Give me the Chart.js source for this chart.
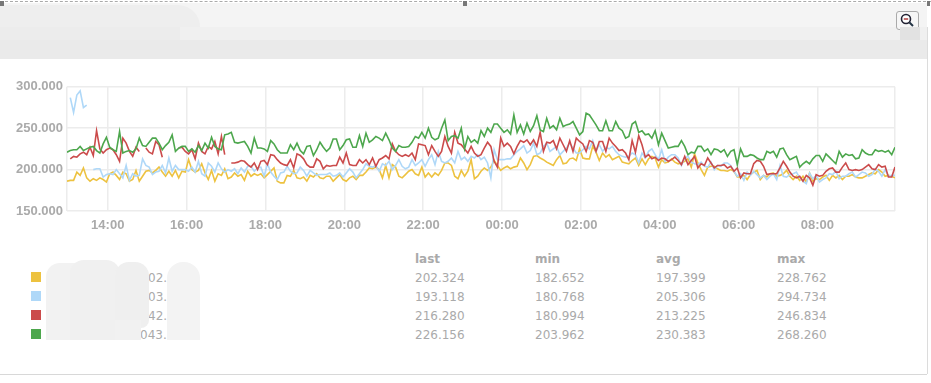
<!DOCTYPE html>
<html>
<head>
<meta charset="utf-8">
<style>
  html, body { margin: 0; padding: 0; background: #fff; overflow: hidden; }
  #page { position: relative; width: 931px; height: 383px; font-family: "DejaVu Sans", sans-serif; }
  #page div, #page span { position: absolute; }
  #chartBox { left: 0; top: 75px; width: 900px; height: 165px; }
  .cell { font-size: 12px; color: #aaa; line-height: 16px; white-space: nowrap; }
  .head { font-weight: bold; }
</style>
<script src="https://cdn.jsdelivr.net/npm/chart.js@4/dist/chart.umd.min.js"></script>
</head>
<body>
<div id="page">
  <div style="left:0;top:3px;width:927px;height:24px;background:#f4f4f4"></div>
  <div style="left:0;top:27px;width:927px;height:13px;background:#f0f0f0"></div>
  <div style="left:0;top:40px;width:927px;height:19px;background:#eaeaea"></div>
  <div style="left:0;top:5px;width:200px;height:22px;background:#eeeeee;border-radius:0 22px 0 0"></div>
  <div style="left:0;top:27px;width:180px;height:13px;background:#ececec"></div>
  <div style="left:0;top:1px;width:931px;border-top:1px dashed #aaa"></div>
  <div style="left:0;top:1px;width:4px;height:5px;background:#777"></div>
  <div style="left:463px;top:1px;width:4px;height:5px;background:#777"></div>
  <div style="left:927px;top:1px;width:3px;height:5px;background:#777"></div>
  <div style="left:927px;top:27px;width:1px;height:347px;background:#dcdcdc"></div>
  <div style="left:0;top:374px;width:927px;height:1px;background:#d8d8d8"></div>
  <div style="left:896px;top:11px;width:21px;height:17px;border:1px solid #aaa;border-radius:3px;background:#f6f6f6"></div>
  <svg style="position:absolute;left:899px;top:13px" width="16" height="15" viewBox="0 0 16 15">
    <circle cx="7" cy="6" r="4.5" fill="#fff" stroke="#223" stroke-width="1.6"/>
    <line x1="10.5" y1="9.5" x2="14" y2="13" stroke="#234" stroke-width="2"/>
    <line x1="4.8" y1="6" x2="9.2" y2="6" stroke="#a33" stroke-width="1.4"/>
  </svg>
  <div style="left:900px;top:27px;width:20px;height:13px;background:#e2e2e2"></div>

  <div id="chartBox"><canvas id="mainChart"></canvas></div>

  <div id="legendBox"></div>
  <div style="left:46px;top:263px;width:50px;height:77px;background:#f2f2f2;border-radius:14px 14px 0 0"></div>
  <div style="left:70px;top:260px;width:50px;height:80px;background:#f0f0f0;border-radius:14px 14px 0 0"></div>
  <div style="left:115px;top:262px;width:34px;height:66px;background:#efefef;border-radius:14px 14px 8px 6px"></div>
  <div style="left:115px;top:320px;width:26px;height:20px;background:#f1f1f1"></div>
  <div style="left:167px;top:262px;width:33px;height:78px;background:#f3f3f3;border-radius:16px 16px 0 0"></div>
</div>
<script>
const seriesColors = ["#edc240", "#afd8f8", "#cb4b4b", "#4da74d"];
const tableColumns = ["last", "min", "avg", "max"];
const nameStubs = ["02.", "03.", "42.", "043."];
const tableRows = [
  ["202.324", "182.652", "197.399", "228.762"],
  ["193.118", "180.768", "205.306", "294.734"],
  ["216.280", "180.994", "213.225", "246.834"],
  ["226.156", "203.962", "230.383", "268.260"],
];
const hourTicks = [14, 16, 18, 20, 22, 24, 26, 28, 30, 32];
const yTicks = [150, 200, 250, 300];

// one row per hour of 5 minute samples, from 12:58
const yellowValues = [
  186,187,187,197,193,202,190,186,189,187,190,188,
  185,195,197,193,188,197,195,186,188,199,186,192,
  198,199,196,199,203,197,192,198,192,199,190,198,
  197,212,200,197,199,207,196,188,199,186,195,193,
  201,189,191,196,192,194,187,198,192,195,193,195,
  190,194,198,202,186,184,184,193,192,199,190,189,
  191,186,193,191,195,190,189,192,192,186,190,194,
  188,186,190,192,188,193,193,197,202,201,203,200,
  190,205,190,206,203,192,190,194,198,200,195,193,
  203,191,196,191,196,193,199,208,208,205,192,189,
  199,192,198,212,189,192,198,202,199,203,211,205,
  199,202,204,201,203,204,214,208,200,206,216,217,
  214,212,209,207,205,212,217,207,208,213,214,211,
  225,214,213,213,228,221,211,220,215,218,212,214,
  216,209,208,207,211,214,205,213,206,213,216,214,
  203,212,208,209,213,209,207,208,210,213,203,219,
  208,200,193,203,204,204,201,199,199,198,200,198,
  191,191,193,188,194,197,199,188,193,191,195,196,
  192,193,195,199,192,188,192,187,192,185,196,186,
  189,188,191,193,187,193,190,193,188,192,192,194,
  191,190,190,192,194,196,195,200,197,192,193,192,
  190,
];
const blueValues = [
  null,287,269,290,295,275,278,null,200,201,201,191,
  194,195,194,200,195,190,205,187,195,192,193,213,
  205,203,194,197,198,205,196,214,198,205,200,200,
  200,198,203,197,210,195,192,208,204,197,208,201,
  197,200,198,201,195,202,197,204,204,198,202,203,
  192,207,197,192,188,196,197,204,198,195,196,203,
  199,192,199,196,193,194,194,194,196,192,193,196,
  191,196,201,197,190,195,200,207,204,203,205,198,
  207,205,210,200,205,212,204,201,203,212,205,208,
  212,204,212,218,206,222,210,208,210,214,208,222,
  212,215,210,216,214,218,212,215,208,190,224,212,
  212,212,213,213,218,222,225,229,220,223,232,218,
  220,228,232,222,225,228,218,222,226,232,226,220,
  220,224,228,225,235,222,230,222,227,225,228,222,
  218,216,215,216,220,218,208,220,214,222,225,218,
  212,224,210,215,218,218,214,205,214,216,209,207,
  206,209,204,203,209,200,205,204,208,208,205,198,
  192,195,187,197,193,198,194,190,193,188,192,195,
  188,205,192,191,194,195,197,190,186,183,196,189,
  193,185,188,190,195,194,198,189,192,192,195,197,
  191,194,197,196,192,194,201,198,192,200,192,193,
  193,
];
const redValues = [
  null,213,216,215,219,221,218,227,217,247,225,220,
  224,226,224,218,210,238,232,222,216,227,222,null,
  226,221,219,234,230,215,null,null,null,null,226,227,
  222,219,224,213,232,222,219,228,225,234,219,240,
  218,null,208,208,209,211,210,206,203,208,200,210,
  211,206,218,217,212,208,206,205,212,202,219,217,
  213,206,203,203,213,210,201,205,204,205,205,215,
  208,220,206,205,205,212,208,212,206,214,204,212,
  214,217,213,231,222,218,216,218,216,220,212,231,
  230,229,218,229,222,216,222,240,228,220,245,232,
  230,225,220,228,220,216,218,226,233,228,210,203,
  238,228,232,228,219,228,235,233,236,230,236,228,
  245,222,233,232,235,225,238,230,222,235,222,238,
  234,231,222,235,233,222,234,234,222,238,232,228,
  223,224,220,212,235,221,241,230,215,218,213,215,
  211,214,213,210,212,215,211,206,216,206,211,216,
  202,207,205,214,208,202,205,205,206,202,204,198,
  202,190,196,195,195,207,211,210,204,194,195,195,
  195,202,210,204,197,192,190,192,186,193,190,181,
  194,192,193,198,201,202,197,197,203,208,200,199,
  200,199,200,203,206,201,200,206,203,204,191,191,
  203,
];
const greenValues = [
  221,223,224,224,228,223,225,227,228,223,220,231,
  239,227,224,222,246,220,222,223,221,225,238,229,
  228,233,238,238,232,224,229,233,242,222,226,228,
  228,222,225,221,229,223,232,226,239,228,225,224,
  242,243,245,233,232,233,234,228,220,238,226,226,
  225,222,235,231,224,220,220,220,230,224,232,223,
  219,228,229,217,224,233,227,222,226,237,237,224,
  229,236,237,227,227,241,228,244,233,236,240,238,
  235,244,236,226,222,229,227,227,228,233,240,238,
  245,238,250,239,236,238,250,260,235,240,241,238,
  250,225,240,233,236,232,247,240,250,245,255,255,
  250,245,248,243,266,245,254,243,256,246,253,265,
  248,246,262,250,253,248,262,252,254,255,258,250,
  242,246,268,266,260,254,247,247,259,247,247,258,
  250,247,238,240,255,258,245,247,242,243,238,247,
  230,244,235,226,227,228,228,235,228,218,221,220,
  228,228,222,225,218,225,224,221,224,216,222,224,
  206,225,216,216,218,217,214,212,212,222,220,222,
  215,225,226,218,212,214,216,203,207,210,207,213,
  217,217,210,219,215,211,207,222,215,219,217,218,
  213,214,224,220,218,218,224,222,223,221,223,218,
  227,
];
const allSeries = [yellowValues, blueValues, redValues, greenValues];

// x axis is hours since midnight of the first day
const startHour = 12 + 58 / 60;
const endHour = 33 + 58 / 60;
const sampleHours = yellowValues.map((v, i) => startHour + i / 12);

const legendBox = document.getElementById("legendBox");
function addCell(left, top, text, cls) {
  const el = document.createElement("span");
  el.className = "cell " + (cls || "");
  el.style.left = left + "px";
  el.style.top = top + "px";
  el.textContent = text;
  legendBox.appendChild(el);
}
const columnLeft = [415, 535, 656, 777];
tableColumns.forEach((name, c) => addCell(columnLeft[c], 251, name, "head"));
tableRows.forEach((row, r) => {
  const top = 270 + r * 19;
  const swatch = document.createElement("div");
  swatch.style.cssText = "left:31px;top:" + (top + 2) + "px;width:10px;height:10px;background:" + seriesColors[r];
  legendBox.appendChild(swatch);
  addCell(r === 3 ? 140 : 148, top, nameStubs[r]);
  row.forEach((value, c) => addCell(columnLeft[c], top, value));
});

const axisFont = { family: "Liberation Sans", size: 13, weight: "bold" };

new Chart(document.getElementById("mainChart"), {
  type: "line",
  data: {
    labels: sampleHours,
    datasets: allSeries.map((values, i) => ({
      data: values,
      borderColor: seriesColors[i],
      borderWidth: 1.6,
      pointRadius: 0,
      tension: 0,
      spanGaps: false,
      order: 4 - i,
    })),
  },
  options: {
    responsive: true,
    maintainAspectRatio: false,
    animation: false,
    layout: { padding: { top: 10, right: 5 } },
    plugins: { legend: { display: false }, tooltip: { enabled: false } },
    scales: {
      x: {
        type: "linear",
        min: startHour,
        max: endHour,
        afterBuildTicks: (scale) => {
          scale.ticks = [startHour, ...hourTicks, endHour].map((value) => ({ value }));
        },
        afterFit: (scale) => {
          scale.height = 29;
          scale.paddingLeft = 0;
          scale.paddingRight = 0;
        },
        grid: { color: "#ececec", lineWidth: 1.5, drawTicks: false },
        border: { display: false },
        ticks: {
          autoSkip: false,
          maxRotation: 0,
          padding: 7,
          color: "#aaa",
          font: axisFont,
          callback: (v) => {
            if (v === startHour || v === endHour) return "";
            return String(v % 24).padStart(2, "0") + ":00";
          },
        },
      },
      y: {
        min: yTicks[0],
        max: yTicks[yTicks.length - 1],
        afterFit: (scale) => { scale.width = 67; },
        grid: { color: "#ececec", lineWidth: 1.5, drawTicks: false },
        border: { display: false },
        ticks: {
          stepSize: 50,
          padding: 4,
          color: "#aaa",
          font: axisFont,
          callback: (v) => v.toFixed(3),
        },
      },
    },
  },
});
</script>
</body>
</html>
